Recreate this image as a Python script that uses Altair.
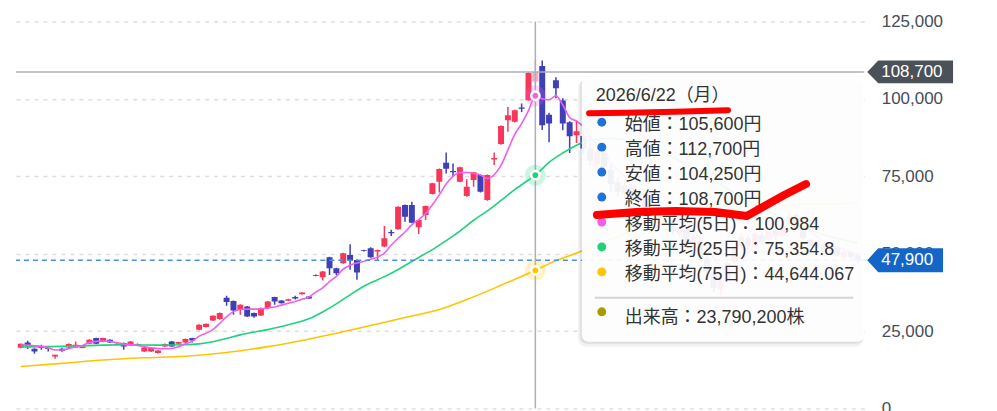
import altair as alt
import pandas as pd

# ---------------- data ----------------
opens = [19650, 21360, 19330, 20070, 19550, 16850, 19330, 19750, 19750, 19550,
         20940, 22780, 21490, 22230, 20620, 21170, 20400, 20850, 18460, 18460,
         17950, 20070, 21690, 20940, 21360, 22780, 25450, 26330, 28460, 28900,
         35760, 34700, 31900, 32960, 30830, 30060, 32450, 35990, 34890, 34800,
         35990, 36950, 36180, 43170, 42430, 48880, 45330, 46950, 49620, 48010,
         51110, 51770, 50700, 52290, 57000, 57900, 65730, 65730, 58540, 62500,
         69270, 73250, 79360, 76700, 73250, 68630, 73790, 75400, 67340, 80400,
         85390, 93120, 92570, 97200, 99560, 105600, 110600, 94900, 106000, 99500,
         92470, 88280, 88000, 84000, 79000, 82500, 77000, 73000, 69500, 71500,
         66500, 68000, 63000, 65000, 60500, 61500, 56500, 58000, 53500, 54000,
         48500, 43500, 38500, 42000, 47500, 52500, 55000, 52000, 56000, 54500,
         57500, 56000, 59500, 62500, 58000, 54500, 52000, 53000, 51500, 52000,
         49000, 50500, 49500]
highs = [21000, 21910, 19500, 20620, 19700, 17400, 19650, 21000, 21690, 20200,
         22400, 22900, 22900, 22400, 21100, 21300, 21800, 21000, 19900, 19700,
         18900, 21000, 21800, 21600, 22600, 22900, 27200, 27500, 30100, 31000,
         36400, 34900, 33700, 33100, 31000, 32600, 34700, 36100, 35000, 35500,
         36400, 37600, 36300, 43300, 44400, 49000, 45500, 50300, 53070, 48200,
         51300, 52100, 51400, 58960, 57700, 65300, 65900, 66800, 61100, 65600,
         72900, 77500, 82700, 79160, 78100, 74010, 76400, 75600, 75600, 82700,
         91400, 97400, 96500, 98500, 108600, 112700, 112400, 95500, 107000, 100200,
         92800, 93120, 90000, 86000, 85000, 84000, 79000, 74500, 73500, 72500,
         70000, 69000, 66500, 66000, 63500, 62500, 59500, 59000, 56500, 55000,
         49500, 44500, 42500, 47500, 52500, 56500, 56000, 57000, 57000, 57500,
         58000, 59500, 63000, 63000, 58500, 55000, 54000, 53500, 53000, 52500,
         51000, 51000, 50300]
lows = [19500, 19230, 17720, 19000, 18460, 16110, 18360, 19600, 19650, 19450,
        20800, 20800, 21400, 21200, 20500, 19000, 20300, 20200, 18300, 18300,
        17800, 19900, 19950, 20800, 21200, 21360, 25300, 26200, 28300, 28700,
        33190, 30290, 30290, 29600, 29300, 29900, 32300, 33510, 33900, 34700,
        35200, 36800, 35400, 42700, 41340, 43170, 43170, 46800, 44790, 41560,
        50700, 48700, 48000, 52100, 55700, 57700, 60350, 59800, 56380, 60900,
        69100, 69800, 75930, 74850, 73100, 68400, 71630, 69800, 67100, 78620,
        85200, 89350, 92400, 95790, 99400, 104250, 89900, 86000, 100210, 89890,
        82480, 85710, 82000, 78500, 77000, 76500, 70000, 68500, 68000, 66000,
        65500, 62500, 62000, 60000, 59500, 56000, 55500, 53000, 52500, 48000,
        43000, 37500, 36500, 41500, 47000, 52000, 51500, 51500, 53000, 54000,
        54500, 55500, 59000, 58000, 54500, 52000, 51500, 50500, 51000, 49000,
        48500, 48500, 47000]
closes = [20940, 20070, 18460, 19550, 19230, 17400, 18690, 20850, 20620, 20070,
          22230, 20940, 22780, 21360, 20940, 20070, 21690, 20300, 19750, 19550,
          18790, 20850, 20070, 21490, 22460, 22010, 27060, 27390, 29960, 30830,
          34380, 31670, 33510, 29740, 29740, 32450, 34570, 34570, 34050, 35340,
          35560, 37470, 35560, 42850, 44240, 45330, 43720, 50170, 47780, 43920,
          50900, 48880, 51230, 55000, 56600, 65180, 61960, 60030, 60900, 65400,
          72720, 77330, 77430, 76300, 77890, 71630, 76270, 70010, 75400, 80900,
          91190, 94730, 96340, 96800, 108350, 108700, 91500, 92000, 103430, 92000,
          87960, 89570, 84000, 80000, 83000, 78000, 72500, 70000, 72000, 67000,
          69000, 63500, 65500, 61000, 62500, 57000, 58500, 54000, 55500, 49000,
          44000, 39000, 41500, 47000, 52000, 55500, 52500, 56500, 54000, 57000,
          55500, 59000, 62000, 58500, 55000, 52500, 53500, 51000, 52500, 49500,
          50500, 49000, 47900]

ma5 = [20600, 20500, 20300, 20100, 19600, 18900, 18900, 19400, 19900, 20400,
       21300, 21700, 21800, 21700, 21300, 20900, 20700, 20400, 20000, 19600,
       19400, 19300, 19400, 20000, 20900, 21800, 23400, 24300, 25500, 27500,
       29700, 31300, 32000, 32100, 32100, 32200, 32500, 32800, 33400, 34000,
       34600, 35300, 36000, 37600, 39000, 41000, 42700, 45000, 46300, 47000,
       47500, 48200, 48900, 50200, 52800, 55000, 57000, 59300, 61000, 63000,
       65800, 69000, 72500, 75000, 76200, 76200, 76000, 75400, 74300, 75500,
       78500, 83500, 88500, 92000, 96200, 100984, 100000, 99700, 101000, 98000,
       94000, 92800, 91000, 87500, 85000, 82500, 79500, 77000, 75000, 72000,
       70000, 68500, 67000, 65500, 64000, 62500, 61000, 59000, 57500, 55000,
       52000, 48500, 45800, 44000, 45000, 47500, 50500, 53000, 54500, 55000,
       55800, 56500, 57500, 58500, 58300, 57300, 55800, 54000, 52800, 52000,
       51400, 50500, 49900]

ma25_idx = [0, 4, 8, 12, 16, 20, 24, 26, 28, 30, 32, 34, 36, 38, 40, 42, 44, 46, 48, 50,
            52, 54, 56, 58, 60, 62, 64, 66, 68, 70, 72, 74, 75, 77, 79, 81, 82, 84, 86, 88,
            90, 92, 94, 96, 98, 100, 103, 106, 110, 114, 118, 122]
ma25_val = [19900, 20000, 20200, 20500, 20600, 20500, 20600, 20900, 21600, 22600,
            23800, 24700, 25500, 26500, 27600, 29000, 31200, 33800, 36700, 39500,
            41600, 43700, 46200, 48800, 51300, 54200, 57300, 60800, 63800, 67200,
            70700, 73800, 75354.8, 79500, 82500, 85000, 86100, 87000, 87300, 86800,
            85800, 84300, 82300, 80000, 77800, 75000, 71000, 67000, 62500, 58500,
            55500, 53500]

ma75_idx = [0, 6, 12, 18, 24, 30, 36, 41, 46, 51, 56, 61, 65, 70, 75, 78, 81, 84, 87, 90,
            95, 100, 105, 110, 115, 122]
ma75_val = [13600, 14600, 15700, 16400, 16900, 18100, 20000, 22000, 24300, 26800,
            29400, 32000, 35200, 39800, 44644.067, 47700, 50200, 52800, 55500, 58200,
            61300, 63400, 64800, 65600, 66000, 66300]

HOVER = 75
HOVER_DATE = "2026/6/22（月）"
VOLUME = 23790200
y_ticks = [0, 25000, 50000, 75000, 100000, 125000]

# hand-drawn red marks (index, price)
mark1_i = [82.83, 88.29, 95.47, 103.09]
mark1_v = [95360, 95520, 95840, 96330]
mark2_i = [83.97, 89.72, 95.47, 101.22, 105.82, 108.41, 111.28, 114.45]
mark2_v = [62500, 63470, 63790, 63470, 62180, 65400, 68940, 72490]

# ---------------- styles ----------------
FONT = "Liberation Sans, Noto Sans CJK JP"
RED = "#f7375a"
BLUE = "#3f3fb6"
PINK = "#f9aac3"
C_MA5 = "#ee5ff0"
C_MA25 = "#1fd27c"
C_MA75 = "#ffc400"
DOT_BLUE = "#1f73d6"
OLIVE = "#a89a00"

N = len(closes)
idx = list(range(N))
kind = ["hover" if i == HOVER else ("up" if closes[i] >= opens[i] else "down") for i in idx]
candles = pd.DataFrame({"i": idx, "o": opens, "h": highs, "l": lows, "c": closes, "kind": kind})

xs = alt.Scale(domain=[0.03, 122.21], nice=False, zero=False)
ys = alt.Scale(domain=[0, 125000], nice=False, zero=False)
yaxis = alt.Axis(orient="right", values=y_ticks, format=",d", title=None, grid=True,
                 gridDash=[4, 5], gridColor="#dedede", gridWidth=1.5, ticks=False, tickSize=0,
                 domain=False, labelFontSize=17, labelFont="Liberation Sans",
                 labelColor="#474d56", labelPadding=17, labelAlign="left",
                 labelBaseline="middle")


def X(f):
    return alt.X(f, type="quantitative", scale=xs, axis=None)


def Y(f):
    return alt.Y(f, type="quantitative", scale=ys, axis=yaxis)


kcolor = alt.Color("kind:N", scale=alt.Scale(domain=["up", "down", "hover"],
                                              range=[RED, BLUE, PINK]), legend=None)

layers = []
layers.append(alt.Chart(candles).mark_rule(strokeWidth=1.5, clip=True).encode(
    x=X("i"), y=Y("l"), y2="h", color=kcolor))
layers.append(alt.Chart(candles).mark_bar(size=6, clip=True).encode(
    x=X("i"), y=Y("o"), y2="c", color=kcolor))

ma5_df = pd.DataFrame({"i": idx, "v": ma5})
ma25_df = pd.DataFrame({"i": ma25_idx, "v": ma25_val})
ma75_df = pd.DataFrame({"i": ma75_idx, "v": ma75_val})
for df, col in [(ma75_df, C_MA75), (ma25_df, C_MA25), (ma5_df, C_MA5)]:
    layers.append(alt.Chart(df).mark_line(color=col, strokeWidth=1.6, clip=True,
                                          interpolate="monotone").encode(x=X("i"), y=Y("v")))

cross_df = pd.DataFrame({"i": [HOVER], "v": [closes[HOVER]]})
last_df = pd.DataFrame({"v": [closes[-1]], "t": [f"{closes[-1]:,}"]})
layers.append(alt.Chart(cross_df).mark_rule(color="#a9b0b9", strokeWidth=1.5).encode(x=X("i")))
layers.append(alt.Chart(cross_df).mark_rule(color="#a9b0b9", strokeWidth=1.5).encode(y=Y("v")))
layers.append(alt.Chart(last_df).mark_rule(color="#4a90e2", strokeWidth=1.5,
                                           strokeDash=[5, 4]).encode(y=Y("v")))

ma25_h = ma25_val[ma25_idx.index(HOVER)]
ma75_h = ma75_val[ma75_idx.index(HOVER)]
for val, col in [(ma5[HOVER], C_MA5), (ma25_h, C_MA25), (ma75_h, C_MA75)]:
    mdf = pd.DataFrame({"i": [HOVER], "v": [val]})
    layers.append(alt.Chart(mdf).mark_circle(size=440, opacity=0.22, color=col).encode(
        x=X("i"), y=Y("v")))
    layers.append(alt.Chart(mdf).mark_circle(size=70, opacity=1, fill=col, stroke="white",
                                             strokeWidth=2.5).encode(x=X("i"), y=Y("v")))

# ---------------- tooltip overlay (pixel layout) ----------------
one = pd.DataFrame({"a": [0]})


def box(x1, x2, y1, y2, **kw):
    return alt.Chart(one).mark_rect(**kw).encode(
        x=alt.value(x1), x2=alt.value(x2), y=alt.value(y1), y2=alt.value(y2))


layers.append(box(563, 849, 59, 326, fill="#000000", opacity=0.05, cornerRadius=8))
layers.append(box(565, 849, 58, 323, fill="#000000", opacity=0.08, cornerRadius=7))
layers.append(box(567, 850, 56, 321, fill="#ffffff", opacity=0.93, cornerRadius=7))

rows = [
    (f"始値：{opens[HOVER]:,}円", DOT_BLUE),
    (f"高値：{highs[HOVER]:,}円", DOT_BLUE),
    (f"安値：{lows[HOVER]:,}円", DOT_BLUE),
    (f"終値：{closes[HOVER]:,}円", DOT_BLUE),
    (f"移動平均(5日)：{ma5[HOVER]:,}", C_MA5),
    (f"移動平均(25日)：{ma25_h:,}", C_MA25),
    (f"移動平均(75日)：{ma75_h:,}", C_MA75),
]
row_y = [104, 129, 154, 179, 204, 229, 254]


def txt(x, y, s, size=18, color="#333333"):
    return alt.Chart(one).mark_text(text=s, align="left", baseline="middle", font=FONT,
                                    fontSize=size, color=color).encode(
        x=alt.value(x), y=alt.value(y))


def dot(x, y, color):
    return alt.Chart(one).mark_circle(size=80, opacity=1, color=color).encode(
        x=alt.value(x), y=alt.value(y))


layers.append(txt(581, 75, HOVER_DATE))
for (s, col), yy in zip(rows, row_y):
    layers.append(dot(587, yy - 3, col))
    layers.append(txt(610, yy, s))
layers.append(alt.Chart(one).mark_rule(color="#d4d4d4", strokeWidth=2).encode(
    x=alt.value(580), x2=alt.value(839), y=alt.value(277)))
layers.append(dot(587, 291, OLIVE))
layers.append(txt(610, 297, f"出来高：{VOLUME:,}株"))

# hand-drawn red marks
m1 = pd.DataFrame({"i": mark1_i, "v": mark1_v})
m2 = pd.DataFrame({"i": mark2_i, "v": mark2_v})
layers.append(alt.Chart(m1).mark_line(color="#ff0000", strokeWidth=6, strokeCap="round",
                                      interpolate="monotone").encode(x=X("i"), y=Y("v")))
layers.append(alt.Chart(m2).mark_line(color="#ff0000", strokeWidth=8, strokeCap="round",
                                      strokeJoin="round").encode(x=X("i"), y=Y("v")))

# price tags on the axis
tag1_df = pd.DataFrame({"v": [closes[HOVER]], "t": [f"{closes[HOVER]:,}"]})
TAG1 = "M-1,0L-0.744,-0.267L1,-0.267L1,0.267L-0.744,0.267Z"
TAG2 = "M-1,0L-0.71,-0.316L1,-0.316L1,0.316L-0.71,0.316Z"
layers.append(alt.Chart(tag1_df).mark_point(shape=TAG1, size=7396, filled=True, color="#4b5158",
                                            opacity=1, strokeWidth=0).encode(
    x=alt.value(896), y=Y("v")))
layers.append(alt.Chart(last_df).mark_point(shape=TAG2, size=5776, filled=True, color="#1366c8",
                                            opacity=1, strokeWidth=0).encode(
    x=alt.value(891), y=Y("v")))
for df in (tag1_df, last_df):
    layers.append(alt.Chart(df).mark_text(align="left", baseline="middle", color="white",
                                          fontSize=17, font="Liberation Sans").encode(
        x=alt.value(867), y=Y("v"), text="t:N"))

chart = alt.layer(*layers).properties(
    width=850, height=388,
    autosize=alt.AutoSizeParams(type="none"),
    padding={"left": 8, "top": 13, "right": 125, "bottom": 10},
).configure_view(strokeWidth=0)

chart.save("out.html", embed_options={"renderer": "svg", "actions": False})
